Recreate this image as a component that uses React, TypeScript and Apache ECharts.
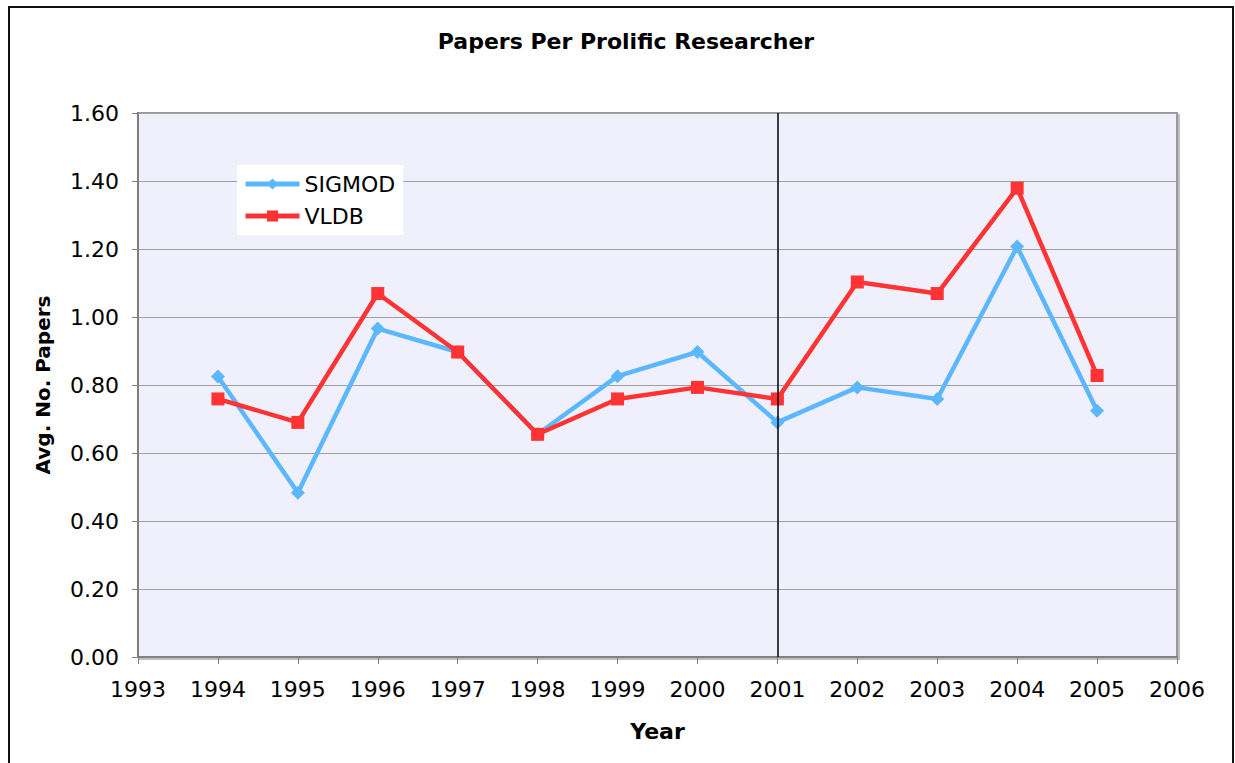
import React, { useEffect, useRef } from "react";
import * as echarts from "echarts";

const years = [1994, 1995, 1996, 1997, 1998, 1999, 2000, 2001, 2002, 2003, 2004, 2005];
const sigmod = [0.825, 0.483, 0.966, 0.897, 0.655, 0.826, 0.897, 0.69, 0.793, 0.759, 1.207, 0.724];
const vldb = [0.759, 0.69, 1.069, 0.897, 0.655, 0.759, 0.793, 0.759, 1.103, 1.069, 1.379, 0.828];
const markYear = 2001;

const FONT = "DejaVu Sans, Verdana, sans-serif";

export default function App() {
  const ref = useRef<HTMLDivElement>(null);
  useEffect(() => {
    const chart = echarts.init(ref.current!, null, { renderer: "svg" });
    chart.setOption({
      animation: false,
      backgroundColor: "#ffffff",
      textStyle: { fontFamily: FONT },
      title: {
        text: "Papers Per Prolific Researcher",
        left: 621,
        textAlign: "center",
        top: 25,
        textStyle: { fontFamily: FONT, fontSize: 22, fontWeight: "bold", color: "#000" },
      },
      graphic: [
        {
          type: "rect",
          shape: { x: 9, y: 7, width: 1224, height: 800 },
          style: { fill: "none", stroke: "#111", lineWidth: 2 },
          silent: true,
        },
      ],
      legend: {
        orient: "vertical",
        left: 237,
        top: 165,
        backgroundColor: "#ffffff",
        padding: [8, 8, 8, 6],
        itemGap: 10,
        itemWidth: 54,
        itemHeight: 14,
        lineStyle: { width: 5 },
        textStyle: { fontFamily: FONT, fontSize: 22, color: "#000" },
        data: ["SIGMOD", "VLDB"],
      },
      grid: {
        left: 138,
        right: 58,
        top: 113,
        bottom: 106,
        show: true,
        backgroundColor: "#F0F0FC",
        borderColor: "#999",
        borderWidth: 2,
        shadowColor: "rgba(0,0,0,0.25)",
        shadowOffsetX: 2,
        shadowOffsetY: 2,
        shadowBlur: 0,
      },
      xAxis: {
        type: "value",
        min: 1993,
        max: 2006,
        interval: 1,
        name: "Year",
        nameLocation: "middle",
        nameGap: 63,
        nameTextStyle: { fontFamily: FONT, fontSize: 22, fontWeight: "bold", color: "#000" },
        axisLine: { show: true, lineStyle: { color: "#808080", width: 2 } },
        axisTick: { show: true, length: 7, lineStyle: { color: "#808080" } },
        axisLabel: { margin: 21, fontFamily: FONT, fontSize: 22, color: "#000", formatter: (v: number) => String(v) },
        splitLine: { show: false },
      },
      yAxis: {
        type: "value",
        min: 0,
        max: 1.6,
        interval: 0.2,
        name: "Avg. No. Papers",
        nameLocation: "middle",
        nameGap: 85,
        nameTextStyle: { fontFamily: FONT, fontSize: 20, fontWeight: "bold", color: "#000" },
        axisLine: { show: true, lineStyle: { color: "#808080", width: 2 } },
        axisTick: { show: true, length: 6, lineStyle: { color: "#808080" } },
        axisLabel: { margin: 19, fontFamily: FONT, fontSize: 22, color: "#000", formatter: (v: number) => v.toFixed(2) },
        splitLine: { show: true, lineStyle: { color: "#a0a0a0", width: 1 } },
      },
      series: [
        {
          name: "SIGMOD",
          type: "line",
          data: years.map((y, i) => [y, sigmod[i]]),
          color: "#5BB8FF",
          lineStyle: { width: 4.5, color: "#5BB8FF" },
          itemStyle: { color: "#5BB8FF" },
          symbol: "diamond",
          symbolSize: 14,
          z: 3,
          markLine: {
            silent: true,
            symbol: "none",
            label: { show: false },
            lineStyle: { color: "#000", width: 1.5, type: "solid" },
            data: [{ xAxis: markYear }],
          },
        },
        {
          name: "VLDB",
          type: "line",
          data: years.map((y, i) => [y, vldb[i]]),
          color: "#FF3333",
          lineStyle: { width: 4.5, color: "#FF3333" },
          itemStyle: { color: "#FF3333" },
          symbol: "rect",
          symbolSize: 13,
          z: 4,
        },
      ],
    });
    return () => chart.dispose();
  }, []);
  return <div ref={ref} style={{ position: "fixed", left: 0, top: 0, width: 1235, height: 763 }} />;
}
